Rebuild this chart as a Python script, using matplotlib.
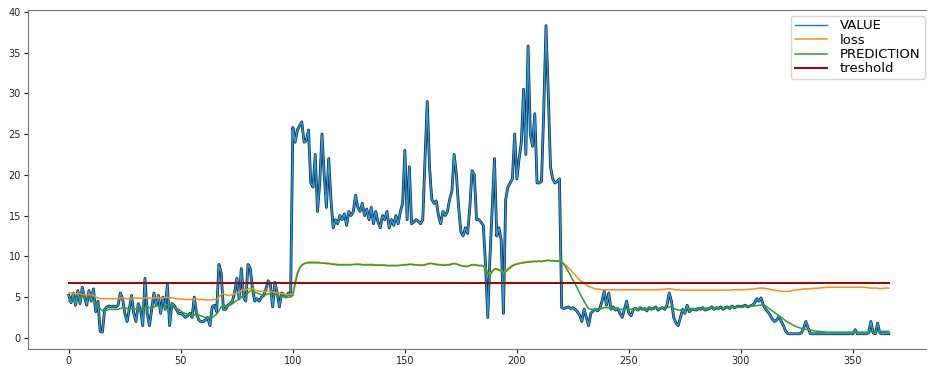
import matplotlib
matplotlib.use("Agg")
import matplotlib.pyplot as plt
import matplotlib.patheffects as pe

value = [
    5.2, 4.3, 5.5, 4.0, 5.8, 4.2, 6.2, 5.0, 4.0, 5.8,
    4.5, 6.0, 3.2, 4.5, 0.8, 0.7, 3.5, 3.8, 3.9, 3.8,
    3.9, 3.8, 4.0, 5.5, 4.8, 3.0, 2.0, 3.5, 5.2, 3.0,
    2.0, 4.2, 3.5, 1.5, 7.3, 3.0, 1.5, 3.5, 5.5, 4.0,
    5.2, 3.0, 5.0, 3.5, 6.5, 1.5, 4.2, 4.0, 3.5, 3.0,
    3.0, 2.8, 2.5, 2.7, 3.0, 2.5, 5.0, 3.0, 2.2, 2.0,
    2.0, 2.2, 2.5, 1.5, 3.8, 4.0, 3.2, 9.0, 8.0, 3.5,
    3.5, 4.0, 4.2, 4.5, 5.5, 7.3, 4.8, 8.5, 5.0, 4.5,
    9.0, 8.5, 6.0, 4.5, 4.8, 4.5, 5.0, 5.2, 6.0, 7.0,
    6.5, 3.8, 6.8, 5.5, 3.8, 5.5, 5.3, 5.0, 5.5, 5.2,
    25.8, 24.0, 25.5, 26.0, 26.5, 24.0, 24.2, 25.5, 19.0, 18.5,
    22.5, 15.5, 19.0, 25.0, 20.0, 16.0, 22.0, 17.0, 13.5, 14.5,
    14.0, 15.0, 14.5, 15.2, 13.8, 15.5, 15.0, 15.5, 17.5, 16.0,
    15.5, 16.5, 15.0, 15.8, 14.5, 16.0, 14.0, 15.5, 14.2, 13.5,
    15.0, 14.5, 15.5, 13.5, 14.5, 13.8, 15.0, 14.0, 15.5, 16.5,
    23.0, 14.5, 21.0, 14.0, 14.2, 14.5, 14.3, 14.0, 14.5, 22.0,
    29.0, 21.0, 17.0, 16.5, 16.8, 15.0, 14.0, 15.5, 15.0, 15.5,
    17.0, 18.0, 22.5, 20.0, 16.0, 13.0, 12.5, 13.5, 12.8, 16.0,
    20.5, 20.0, 14.5, 14.5, 14.2, 13.8, 9.0, 2.5, 10.0, 16.0,
    22.0, 12.5, 13.5, 12.0, 3.0, 17.0, 18.5, 19.0, 19.5, 25.0,
    19.5, 22.0, 24.0, 30.5, 22.5, 35.8, 25.0, 23.5, 27.5, 19.0,
    19.0, 19.2, 28.0, 38.3, 30.0, 21.0, 19.5, 19.0, 19.2, 19.5,
    3.7, 3.6, 3.7, 3.8, 3.6, 3.7, 3.5, 3.2, 2.8, 2.0,
    3.5, 2.5, 1.5, 3.0, 3.3, 3.5, 3.3, 3.6, 4.5, 5.7,
    4.0, 5.5, 3.5, 3.8, 3.4, 3.6, 3.0, 2.5, 3.5, 4.5,
    3.0, 2.7, 3.5, 3.6, 3.4, 3.7, 3.5, 3.6, 3.3, 3.7,
    3.5, 3.6, 3.8, 3.4, 3.6, 3.7, 3.5, 4.0, 5.5, 4.5,
    2.5, 1.8, 1.5, 2.5, 3.5, 3.0, 4.0, 3.2, 3.5, 3.5,
    3.4, 3.6, 3.5, 3.7, 3.4, 3.5, 3.6, 3.8, 3.5, 3.7,
    3.6, 3.8, 3.5, 3.7, 3.8, 3.6, 3.9, 3.7, 3.8, 3.9,
    3.8, 3.9, 4.0, 3.8, 3.9, 4.0, 4.2, 4.8, 4.5, 4.9,
    4.0, 3.5, 3.2, 2.8, 2.3, 2.0, 2.2, 2.6, 2.0, 1.5,
    0.8, 0.5, 0.5, 0.5, 0.5, 0.5, 0.5, 0.6, 1.2, 2.0,
    1.2, 0.5, 0.5, 0.5, 0.5, 0.5, 0.5, 0.5, 0.5, 0.5,
    0.5, 0.5, 0.5, 0.5, 0.5, 0.5, 0.5, 0.5, 0.5, 0.5,
    0.5, 1.0, 0.5, 0.5, 0.5, 0.5, 0.5, 0.6, 2.0, 0.6,
    0.5, 1.8, 0.6, 0.5, 0.5, 0.5, 0.5,
]

loss = [
    5.5, 5.5, 5.5, 5.4, 5.4, 5.4, 5.3, 5.3, 5.3, 5.3,
    5.3, 5.2, 5.0, 4.9, 4.8, 4.8, 4.8, 4.8, 4.8, 4.8,
    4.8, 4.8, 4.85, 4.9, 4.9, 4.85, 4.8, 4.8, 4.85, 4.9,
    4.9, 4.85, 4.85, 4.8, 4.9, 4.9, 4.85, 4.85, 4.9, 4.9,
    4.95, 4.9, 4.9, 4.95, 5.0, 4.9, 4.9, 4.85, 4.8, 4.8,
    4.75, 4.75, 4.7, 4.7, 4.7, 4.7, 4.75, 4.75, 4.7, 4.7,
    4.7, 4.65, 4.65, 4.65, 4.65, 4.7, 4.7, 5.0, 5.3, 5.4,
    5.3, 5.2, 5.2, 5.3, 5.4, 5.5, 5.6, 5.8, 5.9, 5.9,
    6.0, 6.1, 6.0, 5.9, 5.8, 5.7, 5.7, 5.7, 5.7, 5.7,
    5.7, 5.6, 5.6, 5.5, 5.5, 5.4, 5.4, 5.3, 5.3, 5.3,
    5.5, 7.0, 8.0, 8.6, 8.9, 9.1, 9.2, 9.3, 9.3, 9.3,
    9.3, 9.3, 9.25, 9.2, 9.2, 9.2, 9.15, 9.1, 9.1, 9.05,
    9.0, 9.0, 9.0, 9.0, 9.0, 9.0, 9.0, 9.0, 9.05, 9.05,
    9.05, 9.0, 9.0, 9.0, 9.0, 9.0, 9.0, 8.95, 8.95, 8.95,
    8.95, 8.95, 8.9, 8.9, 8.9, 8.9, 8.9, 8.9, 8.9, 8.95,
    9.0, 9.0, 9.05, 9.05, 9.0, 9.0, 8.95, 8.95, 8.95, 9.0,
    9.1, 9.15, 9.15, 9.1, 9.05, 9.0, 9.0, 8.95, 8.95, 9.0,
    9.0, 9.1, 9.15, 9.1, 9.0, 8.9, 8.85, 8.8, 8.8, 8.9,
    9.0, 9.0, 8.95, 8.9, 8.9, 8.85, 8.6, 8.0, 7.8, 8.2,
    8.5, 8.5, 8.4, 8.3, 7.9, 8.2, 8.5, 8.7, 8.9, 9.0,
    9.1, 9.15, 9.2, 9.3, 9.3, 9.35, 9.4, 9.4, 9.4, 9.4,
    9.45, 9.4, 9.45, 9.5, 9.55, 9.5, 9.5, 9.45, 9.45, 9.4,
    9.3, 9.1, 8.9, 8.6, 8.3, 8.0, 7.7, 7.4, 7.1, 6.9,
    6.7, 6.5, 6.3, 6.2, 6.1, 6.0, 6.0, 5.95, 5.9, 5.9,
    5.9, 5.9, 5.9, 5.9, 5.9, 5.9, 5.9, 5.9, 5.9, 5.9,
    5.9, 5.9, 5.9, 5.9, 5.9, 5.9, 5.9, 5.9, 5.9, 5.9,
    5.9, 5.9, 5.9, 5.9, 5.9, 5.95, 5.95, 6.0, 6.05, 6.0,
    5.95, 5.9, 5.9, 5.85, 5.85, 5.85, 5.85, 5.85, 5.85, 5.85,
    5.85, 5.85, 5.85, 5.85, 5.85, 5.85, 5.85, 5.85, 5.85, 5.85,
    5.85, 5.85, 5.85, 5.85, 5.85, 5.85, 5.9, 5.9, 5.9, 5.9,
    5.9, 5.9, 5.9, 5.95, 5.95, 6.0, 6.0, 6.05, 6.1, 6.1,
    6.1, 6.05, 6.0, 5.95, 5.9, 5.85, 5.8, 5.75, 5.7, 5.7,
    5.7, 5.7, 5.75, 5.8, 5.85, 5.9, 5.9, 5.95, 6.0, 6.0,
    6.0, 6.05, 6.05, 6.1, 6.1, 6.1, 6.15, 6.15, 6.2, 6.2,
    6.2, 6.2, 6.2, 6.2, 6.2, 6.2, 6.2, 6.2, 6.2, 6.2,
    6.2, 6.2, 6.2, 6.2, 6.2, 6.2, 6.15, 6.15, 6.1, 6.1,
    6.1, 6.1, 6.05, 6.05, 6.1, 6.1, 6.1,
]

prediction = [
    4.5, 4.6, 4.7, 4.8, 4.9, 5.0, 5.0, 5.0, 4.9, 4.8,
    4.7, 4.6, 4.3, 4.0, 3.6, 3.3, 3.3, 3.4, 3.5, 3.5,
    3.5, 3.5, 3.5, 3.6, 3.7, 3.7, 3.6, 3.5, 3.6, 3.6,
    3.5, 3.5, 3.5, 3.4, 3.8, 3.9, 3.7, 3.6, 3.8, 3.9,
    3.9, 3.8, 3.8, 3.9, 4.1, 3.9, 3.8, 3.7, 3.6, 3.5,
    3.3, 3.1, 3.0, 2.9, 2.8, 2.7, 2.8, 2.9, 2.8, 2.7,
    2.6, 2.5, 2.5, 2.4, 2.5, 2.7, 2.9, 3.3, 3.8, 4.0,
    3.9, 3.9, 4.0, 4.2, 4.4, 4.6, 4.7, 5.0, 5.2, 5.3,
    5.5, 5.8, 5.8, 5.6, 5.5, 5.4, 5.3, 5.3, 5.3, 5.4,
    5.4, 5.3, 5.3, 5.2, 5.1, 5.1, 5.0, 5.0, 5.0, 5.0,
    5.2, 6.5, 7.8, 8.5, 8.9, 9.1, 9.2, 9.2, 9.2, 9.2,
    9.2, 9.2, 9.2, 9.15, 9.15, 9.1, 9.1, 9.05, 9.0, 9.0,
    8.95, 8.95, 8.95, 8.95, 8.95, 8.95, 8.95, 9.0, 9.0, 9.0,
    9.0, 8.95, 8.95, 8.95, 8.95, 8.95, 8.9, 8.9, 8.9, 8.9,
    8.9, 8.9, 8.85, 8.85, 8.85, 8.85, 8.85, 8.85, 8.9, 8.9,
    8.95, 8.95, 9.0, 9.0, 8.95, 8.95, 8.9, 8.9, 8.9, 8.95,
    9.05, 9.1, 9.1, 9.05, 9.0, 8.95, 8.95, 8.9, 8.9, 8.95,
    8.95, 9.05, 9.1, 9.05, 8.95, 8.85, 8.8, 8.75, 8.75, 8.85,
    8.95, 8.95, 8.9, 8.85, 8.85, 8.8, 8.5, 7.9, 7.7, 8.1,
    8.4, 8.4, 8.3, 8.2, 7.8, 8.1, 8.4, 8.6, 8.8, 8.95,
    9.05, 9.1, 9.15, 9.2, 9.25, 9.3, 9.3, 9.35, 9.35, 9.35,
    9.4, 9.35, 9.4, 9.45, 9.5, 9.45, 9.45, 9.4, 9.4, 9.4,
    9.3, 9.0, 8.6, 8.1, 7.6, 7.1, 6.6, 6.1, 5.5, 5.0,
    4.5, 4.0, 3.6, 3.5, 3.5, 3.6, 3.5, 3.5, 3.6, 3.7,
    3.7, 3.7, 3.6, 3.6, 3.6, 3.6, 3.5, 3.5, 3.5, 3.6,
    3.5, 3.5, 3.5, 3.5, 3.6, 3.6, 3.6, 3.6, 3.6, 3.6,
    3.6, 3.6, 3.6, 3.6, 3.6, 3.6, 3.6, 3.7, 3.8, 3.8,
    3.6, 3.5, 3.4, 3.4, 3.5, 3.5, 3.6, 3.6, 3.6, 3.6,
    3.6, 3.6, 3.6, 3.65, 3.65, 3.65, 3.65, 3.7, 3.7, 3.7,
    3.7, 3.7, 3.7, 3.7, 3.75, 3.75, 3.75, 3.75, 3.8, 3.8,
    3.8, 3.8, 3.85, 3.85, 3.85, 3.9, 3.9, 3.95, 4.0, 4.0,
    4.0, 3.9, 3.7, 3.5, 3.3, 3.1, 2.9, 2.7, 2.5, 2.3,
    2.1, 1.9, 1.75, 1.6, 1.45, 1.35, 1.25, 1.15, 1.1, 1.05,
    1.0, 0.95, 0.9, 0.85, 0.8, 0.8, 0.75, 0.75, 0.7, 0.7,
    0.7, 0.7, 0.7, 0.7, 0.7, 0.7, 0.7, 0.7, 0.7, 0.7,
    0.7, 0.7, 0.7, 0.7, 0.7, 0.7, 0.7, 0.7, 0.75, 0.75,
    0.75, 0.8, 0.8, 0.8, 0.8, 0.8, 0.8,
]

threshold_level = 6.7
labels = ["VALUE", "loss", "PREDICTION", "treshold"]

x = list(range(len(value)))
threshold = [threshold_level for _ in x]

fig = plt.figure(figsize=(9.27, 3.66), dpi=100)
ax = fig.add_axes([0.030, 0.046, 0.973, 0.926])

ax.plot(x, value, color="#2b9cd8", lw=1.0, label=labels[0],
        path_effects=[pe.Stroke(linewidth=2.0, foreground="#0c2448"), pe.Normal()])
ax.plot(x, loss, color="#ff8c1a", lw=1.1, label=labels[1])
ax.plot(x, prediction, color="#2ca02c", lw=1.1, label=labels[2])
ax.plot(x, threshold, color="#8b1010", lw=1.5, label=labels[3])

ax.set_xticks([0, 50, 100, 150, 200, 250, 300, 350])
ax.set_yticks([0, 5, 10, 15, 20, 25, 30, 35, 40])
ax.tick_params(labelsize=7, length=3, pad=2, colors="#222222")
for s in ax.spines.values():
    s.set_color("#777777")

leg = ax.legend(loc="upper right", fontsize=9.5, labelspacing=0.1,
                borderpad=0.3, handlelength=2.4, handletextpad=1.0,
                borderaxespad=0.4, frameon=True)
for h in leg.get_lines():
    h.set_path_effects([])
leg.get_lines()[0].set_color("#1f77b4")

fig.savefig("out.png", dpi=100)
